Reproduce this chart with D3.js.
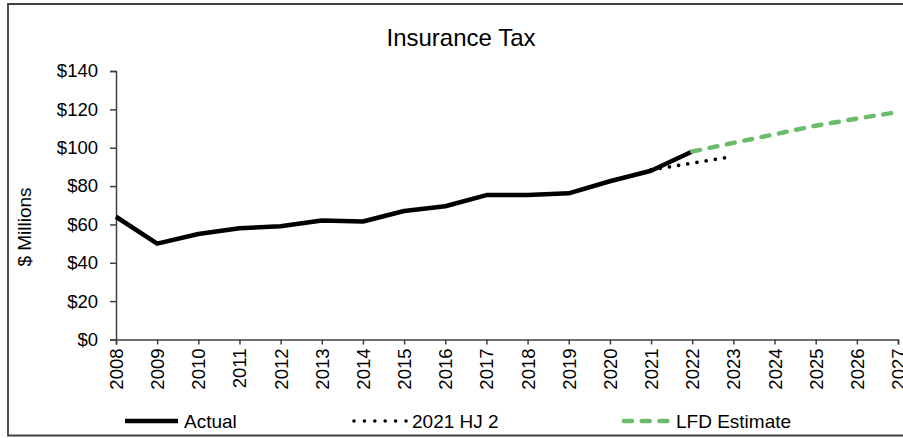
<!DOCTYPE html>
<html>
<head>
<meta charset="utf-8">
<script src="https://cdn.jsdelivr.net/npm/d3@7"></script>
<style>
  body { margin: 0; background: #fff; }
  svg { display: block; font-family: "Liberation Sans", Arial, sans-serif; }
</style>
</head>
<body>
<div id="chart"></div>
<script>
// tick labels / categories
var years = ["2008","2009","2010","2011","2012","2013","2014","2015","2016","2017",
             "2018","2019","2020","2021","2022","2023","2024","2025","2026","2027"];
var yTicks = [0, 20, 40, 60, 80, 100, 120, 140];

// series
var actualYears = ["2008","2009","2010","2011","2012","2013","2014","2015","2016","2017","2018","2019","2020","2021","2022"];
var actualVals  = [64, 50, 55, 58, 59, 62, 61.5, 67, 69.5, 75.3, 75.3, 76.2, 82.5, 88, 98];
var hjYears = ["2021","2022","2023"];
var hjVals  = [88.5, 92, 95.5];
var lfdYears = ["2022","2023","2024","2025","2026","2027"];
var lfdVals  = [98, 102.5, 107, 111.5, 115.2, 118.6];

var W = 903, H = 438;
var svg = d3.select("#chart").append("svg")
    .attr("width", W).attr("height", H);

// outer frame (right side runs off the picture)
svg.append("path")
    .attr("d", "M 912 4 L 8 4 L 8 435.5 L 912 435.5")
    .attr("fill", "none")
    .attr("stroke", "#404040")
    .attr("stroke-width", 1.8);

var x = d3.scalePoint().domain(years).range([116, 898]);
var y = d3.scaleLinear().domain([0, 140]).range([339.5, 71]);

var axisColor = "#404040";

// y axis
var gy = svg.append("g")
    .attr("transform", "translate(116,0)")
    .call(d3.axisLeft(y).tickValues(yTicks).tickSize(6).tickPadding(12)
          .tickFormat(function(d){ return "$" + d; }));
gy.select(".domain").attr("stroke", axisColor).attr("stroke-width", 1.5);
gy.selectAll(".tick line").attr("stroke", axisColor).attr("stroke-width", 1.5);
gy.selectAll("text").attr("fill", "#000").style("font-size", "18.5px");

// x axis
var gx = svg.append("g")
    .attr("transform", "translate(0,339.5)")
    .call(d3.axisBottom(x).tickSize(5));
gx.select(".domain").attr("stroke", axisColor).attr("stroke-width", 1.5);
gx.selectAll(".tick line").attr("stroke", axisColor).attr("stroke-width", 1.5);
gx.selectAll("text")
    .attr("fill", "#000")
    .style("font-size", "18.5px")
    .attr("transform", "rotate(-90)")
    .attr("text-anchor", "end")
    .attr("x", -9)
    .attr("y", 0)
    .attr("dy", "0.35em");

// title
svg.append("text")
    .attr("x", 461).attr("y", 46)
    .attr("text-anchor", "middle")
    .style("font-size", "24px")
    .text("Insurance Tax");

// y axis title
svg.append("text")
    .attr("transform", "translate(31,227) rotate(-90)")
    .attr("text-anchor", "middle")
    .style("font-size", "19px")
    .text("$ Millions");

var line = d3.line()
    .x(function(d){ return x(d[0]); })
    .y(function(d){ return y(d[1]); });

function pairs(ks, vs) { return ks.map(function(k, i){ return [k, vs[i]]; }); }

// 2021 HJ 2 (dotted)
svg.append("path")
    .attr("d", line(pairs(hjYears, hjVals)))
    .attr("fill", "none")
    .attr("stroke", "#000")
    .attr("stroke-width", 3.8)
    .attr("stroke-linecap", "round")
    .attr("stroke-dasharray", "0,9.3");

// Actual
svg.append("path")
    .attr("d", line(pairs(actualYears, actualVals)))
    .attr("fill", "none")
    .attr("stroke", "#000")
    .attr("stroke-width", 4.5)
    .attr("stroke-linejoin", "round");

// LFD Estimate (dashed)
svg.append("path")
    .attr("d", line(pairs(lfdYears, lfdVals)))
    .attr("fill", "none")
    .attr("stroke", "#6bbd6b")
    .attr("stroke-width", 4.5)
    .attr("stroke-linecap", "round")
    .attr("stroke-dasharray", "8,9.7");

// legend
var legend = [
  {label: "Actual", x1: 125, x2: 178, color: "#000", w: 4.5, dash: null, cap: "butt"},
  {label: "2021 HJ 2", x1: 354, x2: 406, color: "#000", w: 3.6, dash: "0,10.4", cap: "round"},
  {label: "LFD Estimate", x1: 624, x2: 670, color: "#6bbd6b", w: 4.5, dash: "8,9.7", cap: "round"}
];
var lg = svg.append("g");
legend.forEach(function(d){
  lg.append("line")
    .attr("x1", d.x1).attr("x2", d.x2)
    .attr("y1", 421).attr("y2", 421)
    .attr("stroke", d.color)
    .attr("stroke-width", d.w)
    .attr("stroke-linecap", d.cap)
    .attr("stroke-dasharray", d.dash);
  lg.append("text")
    .attr("x", d.x2 + 6).attr("y", 427.5)
    .style("font-size", "19px")
    .text(d.label);
});
</script>
</body>
</html>
